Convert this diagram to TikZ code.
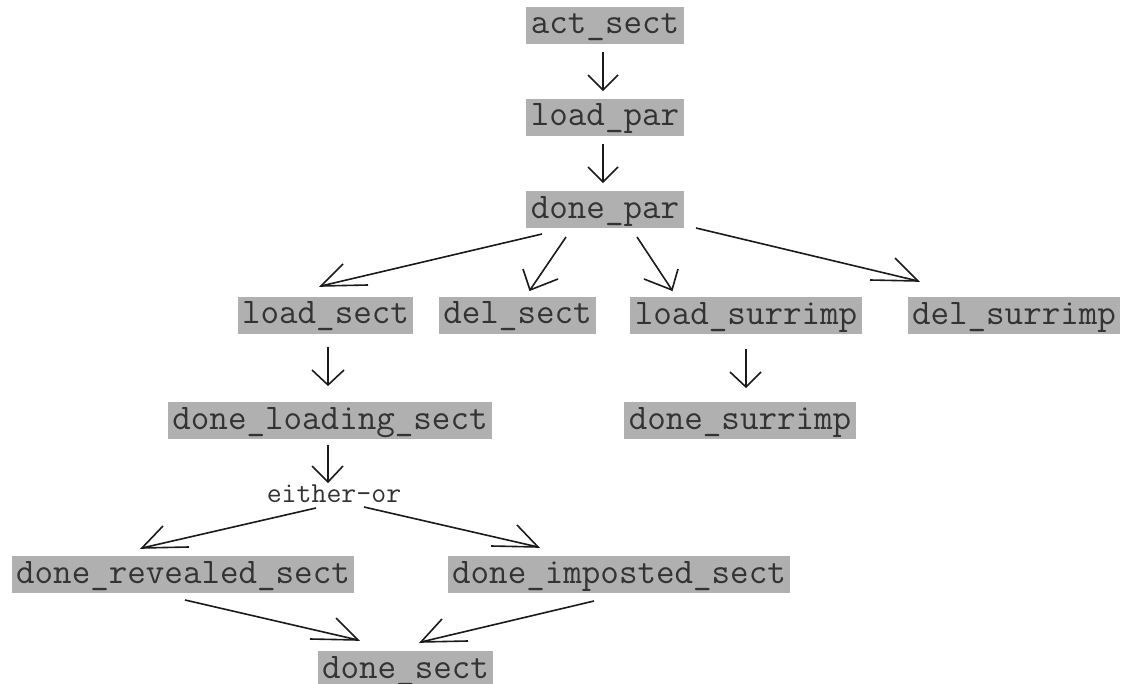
\documentclass[tikz,border=0pt]{standalone}
\usetikzlibrary{calc}
\definecolor{boxgray}{HTML}{B0B0B0}
\definecolor{textgray}{HTML}{333333}
\definecolor{inkline}{HTML}{1A1A1A}
% open arrow head: two barbs meeting at the tip #1
\newcommand\barbs[3]{\draw[link] ($(#1)+(#2)$) -- (#1) -- ++(#3);}
\begin{document}
\begin{tikzpicture}[x=1pt,y=-1pt,
  state/.style={fill=boxgray,text=textgray,inner xsep=4.5pt,inner ysep=1.5pt,
    text height=25.5pt,text depth=8.5pt,
    font=\ttfamily\fontsize{36}{36}\selectfont},
  choice/.style={text=textgray,inner sep=0pt,anchor=base,
    font=\ttfamily\fontsize{29}{29}\selectfont},
  link/.style={draw=inkline,line width=1.6pt,line join=miter}]
\useasboundingbox (0,0) rectangle (1130,684);
% states
\node[state] (act)   at (605,25.5)  {act\_sect};
\node[state] (lpar)  at (605,117.5) {load\_par};
\node[state] (dpar)  at (605,210)   {done\_par};
\node[state] (lsect) at (325.5,315.5) {load\_sect};
\node[state] (dsect) at (517.5,315.5) {del\_sect};
\node[state] (lsur)  at (746,316)   {load\_surrimp};
\node[state] (dsur)  at (1014,316)  {del\_surrimp};
\node[state] (dls)   at (330,420.5) {done\_loading\_sect};
\node[state] (dsurr) at (740,421)   {done\_surrimp};
\node[choice] (eo)   at (334,502)   {either-or};
\node[state] (drs)   at (183,574.5) {done\_revealed\_sect};
\node[state] (dis)   at (619,574.5) {done\_imposted\_sect};
\node[state] (done)  at (405.5,669.5) {done\_sect};
% transitions
\draw[link] ($(act)+(-2,26.5)$) -- ($(lpar)+(-2,-27.5)$) coordinate (h1);
\barbs{h1}{-15,-15}{15,-15}
\draw[link] ($(lpar)+(-2,26.5)$) -- ($(dpar)+(-2,-28)$) coordinate (h2);
\barbs{h2}{-15,-15}{15,-15}
\draw[link] ($(dpar)+(-63,24)$) -- ($(lsect)+(-4.5,-29.5)$) coordinate (h3);
\barbs{h3}{22,-22}{47,-1}
\draw[link] ($(dpar)+(-39,27)$) -- ($(dsect)+(12.5,-25.5)$) coordinate (h4);
\barbs{h4}{-7,-21}{28,-11}
\draw[link] ($(dpar)+(32,27)$) -- ($(lsur)+(-74,-26)$) coordinate (h5);
\barbs{h5}{-28,-11}{6,-21}
\draw[link] ($(dpar)+(91,18)$) -- ($(dsur)+(-96,-35)$) coordinate (h6);
\barbs{h6}{-48,-1}{-23,-23}
\draw[link] ($(lsect)+(2.5,31.5)$) -- ($(dls)+(-2,-35.5)$) coordinate (h7);
\barbs{h7}{-16,-15}{16,-15}
\draw[link] ($(lsur)+(0,33)$) -- ($(dsurr)+(6,-34)$) coordinate (h8);
\barbs{h8}{-16,-15}{15,-15}
\draw[link] ($(dls)+(-2,24.5)$) -- ($(eo.base)+(-6,-20)$) coordinate (h9);
\barbs{h9}{-16,-16}{15,-16}
\draw[link] ($(eo.base)+(-18,6)$) -- ($(drs)+(-41,-26.5)$) coordinate (h10);
\barbs{h10}{21,-22}{47,-1}
\draw[link] ($(eo.base)+(30,5)$) -- ($(dis)+(-81,-27.5)$) coordinate (h11);
\barbs{h11}{-21,-22}{-47,-1}
\draw[link] ($(drs)+(2,25.5)$) -- ($(done)+(-47.5,-29.5)$) coordinate (h12);
\barbs{h12}{-22,-22}{-48,-1}
\draw[link] ($(dis)+(-25,26.5)$) -- ($(done)+(15.5,-27.5)$) coordinate (h13);
\barbs{h13}{21,-23}{47,-1}
\end{tikzpicture}
\end{document}
